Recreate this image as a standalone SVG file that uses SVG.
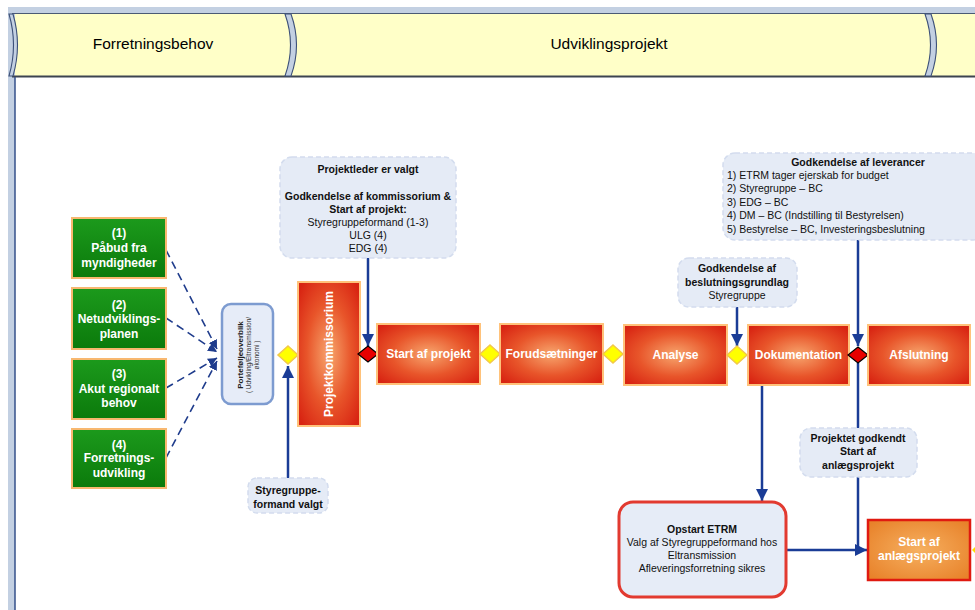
<svg xmlns="http://www.w3.org/2000/svg" width="975" height="610" viewBox="0 0 975 610">
<defs>
<style>
.hdr{font-family:"Liberation Sans",Arial,sans-serif;font-size:15.5px;fill:#000;text-anchor:middle}
.gt{font-family:"Liberation Sans",Arial,sans-serif;font-size:12px;font-weight:bold;fill:#fff;text-anchor:middle}
.pt{font-family:"Liberation Sans",Arial,sans-serif;font-size:12px;font-weight:bold;fill:#fff;text-anchor:middle}
.ct{font-family:"Liberation Sans",Arial,sans-serif;font-size:10.5px;fill:#111;text-anchor:middle}
.cl{font-family:"Liberation Sans",Arial,sans-serif;font-size:10.5px;fill:#111}
.b{font-weight:bold}
.green{fill:url(#gg);stroke:#f8b870;stroke-width:2}
.red{fill:url(#rg);stroke:#ffc27a;stroke-width:2}
.call{fill:#e5ebf6;stroke:#d3dcee;stroke-width:1.5;stroke-dasharray:5 3}
.ydia{fill:#ffff00;stroke:#f2c84a;stroke-width:1.5}
.rdia{fill:#e80000;stroke:#000;stroke-width:1.2}
.conn{fill:none;stroke:#1a3c96;stroke-width:2.5}
.dash{fill:none;stroke:#1f3c8c;stroke-width:1.6;stroke-dasharray:8 5}
</style>
<radialGradient id="rg" cx="50%" cy="50%" r="65%">
<stop offset="0" stop-color="#f7a66e"/>
<stop offset="0.55" stop-color="#e8552a"/>
<stop offset="1" stop-color="#d82412"/>
</radialGradient>
<radialGradient id="og" cx="50%" cy="50%" r="65%">
<stop offset="0" stop-color="#f6b060"/>
<stop offset="1" stop-color="#e8822a"/>
</radialGradient>
<linearGradient id="gg" x1="0" y1="0" x2="0" y2="1">
<stop offset="0" stop-color="#1c9a1c"/>
<stop offset="1" stop-color="#0b7a0b"/>
</linearGradient>
<marker id="ah" viewBox="0 0 10 10" refX="10" refY="5" markerWidth="12" markerHeight="12" markerUnits="userSpaceOnUse" orient="auto">
<path d="M0,0 L10,5 L0,10 z" fill="#1a3c96"/>
</marker>
<marker id="ahs" viewBox="0 0 10 10" refX="10" refY="5" markerWidth="9" markerHeight="9" markerUnits="userSpaceOnUse" orient="auto">
<path d="M0,0 L10,5 L0,10 z" fill="#1f3c8c"/>
</marker>
</defs>
<rect x="0" y="0" width="975" height="610" fill="#ffffff"/>
<g id="header">
<rect x="8" y="7" width="967" height="7" fill="#c3d0e2"/>
<rect x="8" y="13" width="7" height="597" fill="#c3d0e2"/>
<rect x="15" y="14" width="960" height="62" fill="#ffffc8"/>
<line x1="12" y1="13.5" x2="975" y2="13.5" stroke="#4a5a74" stroke-width="1.2"/>
<line x1="12" y1="76.5" x2="975" y2="76.5" stroke="#3c4450" stroke-width="2"/>
<line x1="15" y1="77" x2="15" y2="610" stroke="#34508a" stroke-width="1.5"/>
<path d="M9,14 Q18,45 9,76 L13,76 Q22,45 13,14 Z" fill="#c3d0e2" stroke="#3c5078" stroke-width="1.1"/>
<path d="M285,14 Q296,45 285,76 L291,76 Q302,45 291,14 Z" fill="#c3d0e2" stroke="#3c5078" stroke-width="1.1"/>
<path d="M925,14 Q936,45 925,76 L931,76 Q942,45 931,14 Z" fill="#c3d0e2" stroke="#3c5078" stroke-width="1.1"/>
<text class="hdr" x="153" y="49">Forretningsbehov</text>
<text class="hdr" x="609" y="49">Udviklingsprojekt</text>
</g>
<g id="connectors">
<path class="dash" d="M166,250 L217,349" marker-end="url(#ahs)"/>
<path class="dash" d="M166,318 L217,352" marker-end="url(#ahs)"/>
<path class="dash" d="M166,388 L217,358" marker-end="url(#ahs)"/>
<path class="dash" d="M166,458 L217,361" marker-end="url(#ahs)"/>
<path class="conn" d="M288,478 L288,366" marker-end="url(#ah)"/>
<path class="conn" d="M368,258 L368,346" marker-end="url(#ah)"/>
<path class="conn" d="M737,307 L737,346" marker-end="url(#ah)"/>
<path class="conn" d="M858,240 L858,346" marker-end="url(#ah)"/>
<path class="conn" d="M858,363 L858,428"/>
<path class="conn" d="M858,477 L858,550"/>
<path class="conn" d="M786,550 L867,550" marker-end="url(#ah)"/>
<path class="conn" d="M762,385 L762,501" marker-end="url(#ah)"/>
</g>
<g id="n1"><rect class="green" x="72" y="218" width="94" height="60"/>
<text class="gt" x="119" y="237">(1)</text><text class="gt" x="119" y="252">Påbud fra</text><text class="gt" x="119" y="267">myndigheder</text></g>
<g id="n2"><rect class="green" x="72" y="288" width="94" height="61"/>
<text class="gt" x="119" y="309">(2)</text><text class="gt" x="119" y="323">Netudviklings-</text><text class="gt" x="119" y="338">planen</text></g>
<g id="n3"><rect class="green" x="72" y="359" width="94" height="60"/>
<text class="gt" x="119" y="378">(3)</text><text class="gt" x="119" y="393">Akut regionalt</text><text class="gt" x="119" y="407">behov</text></g>
<g id="n4"><rect class="green" x="72" y="429" width="94" height="59"/>
<text class="gt" x="119" y="449">(4)</text><text class="gt" x="119" y="462">Forretnings-</text><text class="gt" x="119" y="477">udvikling</text></g>
<g id="portfolio"><rect x="222" y="304" width="51" height="100" rx="9" fill="#e6ecf8" stroke="#7d9bd0" stroke-width="2.5"/>
<g transform="translate(248,355) rotate(-90)">
<text x="0" y="-5" style="font-family:'Liberation Sans',Arial,sans-serif;font-size:8px;font-weight:bold;fill:#222;text-anchor:middle">Porteføljeoverblik</text>
<text x="0" y="3" style="font-family:'Liberation Sans',Arial,sans-serif;font-size:6.5px;fill:#333;text-anchor:middle">( Udvikling/Eltransmission/</text>
<text x="0" y="11" style="font-family:'Liberation Sans',Arial,sans-serif;font-size:6.5px;fill:#333;text-anchor:middle">økonomi )</text>
</g></g>
<g id="d1"><path class="ydia" d="M288,346 L298,355 L288,364 L278,355 Z"/></g>
<g id="c_styr"><rect class="call" x="248" y="478" width="80" height="35" rx="9"/>
<text class="ct b" x="288" y="494">Styregruppe-</text><text class="ct b" x="288" y="508">formand valgt</text></g>
<g id="kommissorium"><rect class="red" x="298" y="282" width="62" height="144"/>
<text class="pt" transform="translate(329,354) rotate(-90)" x="0" y="4">Projektkommissorium</text></g>
<g id="d2"><path class="rdia" d="M368,346 L378,354 L368,362 L358,354 Z"/></g>
<g id="c_top"><rect class="call" x="280" y="157" width="176" height="101" rx="12"/>
<text class="ct b" x="368" y="173">Projektleder er valgt</text>
<text class="ct b" x="368" y="200">Godkendelse af kommissorium &amp;</text>
<text class="ct b" x="368" y="213">Start af projekt:</text>
<text class="ct" x="368" y="226">Styregruppeformand (1-3)</text>
<text class="ct" x="368" y="239">ULG (4)</text>
<text class="ct" x="368" y="252">EDG (4)</text></g>
<g id="p_start"><rect class="red" x="377" y="324" width="103" height="60"/><text class="pt" x="428.5" y="358">Start af projekt</text></g>
<g id="d3"><path class="ydia" d="M490,345 L500,354 L490,363 L480,354 Z"/></g>
<g id="p_forud"><rect class="red" x="500" y="324" width="103" height="60"/><text class="pt" x="551.5" y="358">Forudsætninger</text></g>
<g id="d4"><path class="ydia" d="M613,345 L623,354 L613,363 L603,354 Z"/></g>
<g id="p_analyse"><rect class="red" x="624" y="325" width="103" height="60"/><text class="pt" x="675.5" y="359">Analyse</text></g>
<g id="d5"><path class="ydia" d="M737,346 L747,355 L737,364 L727,355 Z"/></g>
<g id="c_beslut"><rect class="call" x="678" y="258" width="119" height="49" rx="11"/>
<text class="ct b" x="737" y="272">Godkendelse af</text>
<text class="ct b" x="737" y="286">beslutningsgrundlag</text>
<text class="ct" x="737" y="299">Styregruppe</text></g>
<g id="p_dok"><rect class="red" x="748" y="325" width="101" height="60"/><text class="pt" x="798.5" y="359">Dokumentation</text></g>
<g id="d6"><path class="rdia" d="M858,347 L868,355 L858,363 L848,355 Z"/></g>
<g id="p_afslut"><rect class="red" x="868" y="325" width="102" height="60"/><text class="pt" x="919" y="359">Afslutning</text></g>
<g id="c_lev"><rect class="call" x="723" y="153" width="262" height="87" rx="12"/>
<text class="ct b" x="858" y="166">Godkendelse af leverancer</text>
<text class="cl" x="727" y="179">1) ETRM tager ejerskab for budget</text>
<text class="cl" x="727" y="192">2) Styregruppe – BC</text>
<text class="cl" x="727" y="206">3) EDG – BC</text>
<text class="cl" x="727" y="219">4) DM – BC (Indstilling til Bestyrelsen)</text>
<text class="cl" x="727" y="233">5) Bestyrelse – BC, Investeringsbeslutning</text></g>
<g id="c_godk"><rect class="call" x="800" y="428" width="117" height="49" rx="11"/>
<text class="ct b" x="858" y="442">Projektet godkendt</text>
<text class="ct b" x="858" y="455">Start af</text>
<text class="ct b" x="858" y="469">anlægsprojekt</text></g>
<g id="opstart"><rect x="619" y="502" width="167" height="95" rx="14" fill="#e6ecf7" stroke="#e23a30" stroke-width="3"/>
<text class="ct b" x="702" y="533">Opstart ETRM</text>
<text class="ct" x="702" y="546">Valg af Styregruppeformand hos</text>
<text class="ct" x="702" y="559">Eltransmission</text>
<text class="ct" x="702" y="572">Afleveringsforretning sikres</text></g>
<g id="anlaeg"><rect x="868" y="520" width="102" height="60" fill="url(#og)" stroke="#e01a10" stroke-width="2.5"/>
<text class="pt" x="919" y="546">Start af</text><text class="pt" x="919" y="560">anlægsprojekt</text>
<path d="M972,550 L976,546 L976,554 Z" fill="#ffdd00"/></g>
</svg>
